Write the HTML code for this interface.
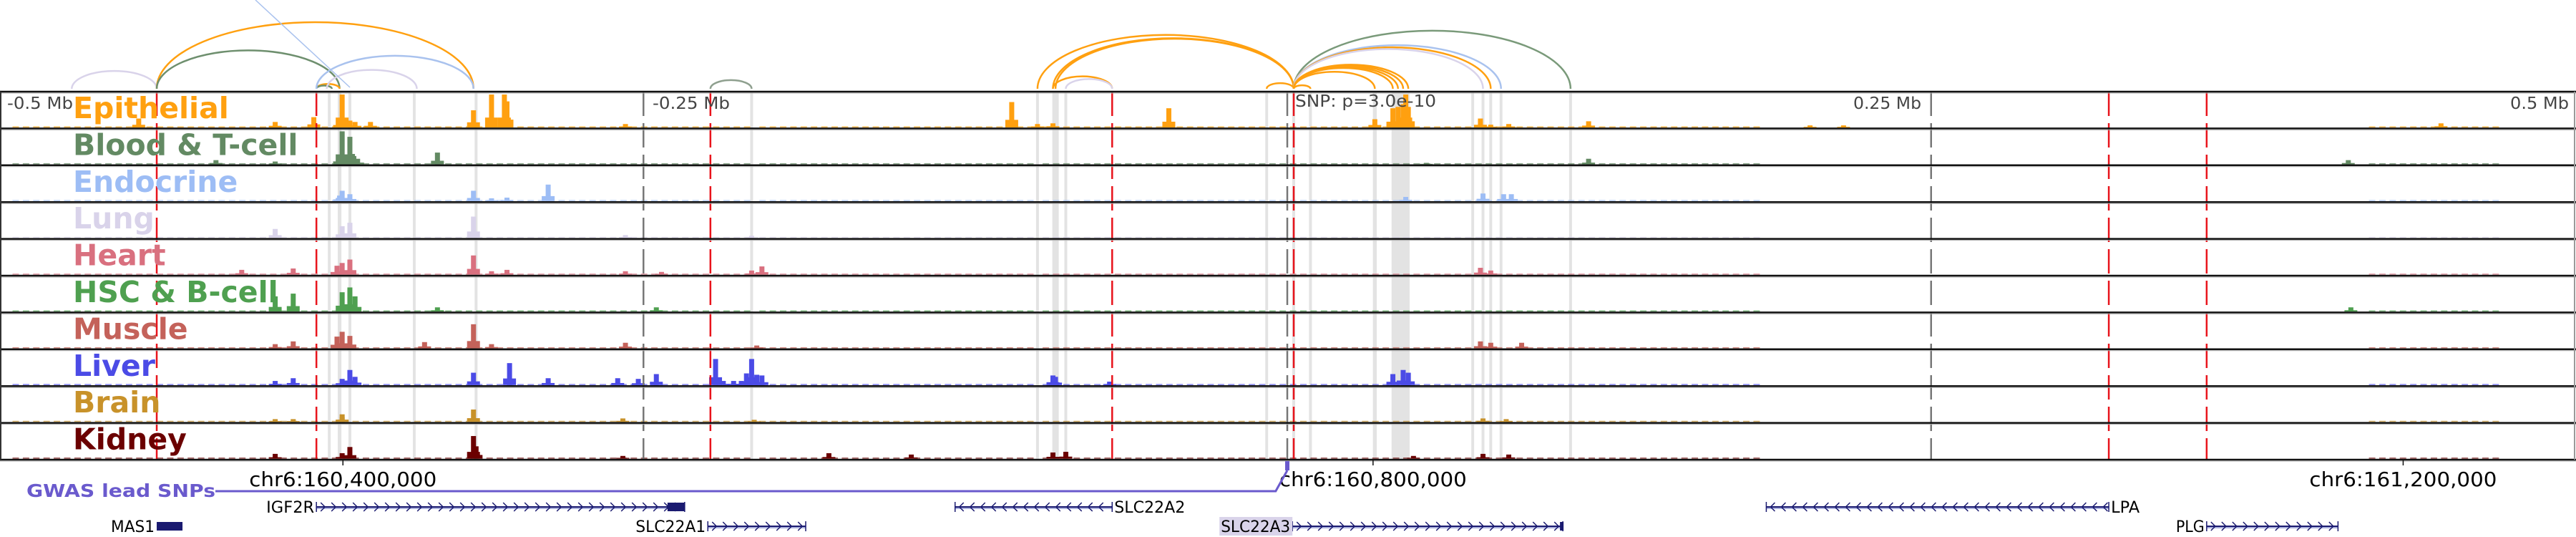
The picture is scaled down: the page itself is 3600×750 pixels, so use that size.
<!DOCTYPE html>
<html><head><meta charset="utf-8"><style>
html,body{margin:0;padding:0;background:#fff;}
svg{display:block;}
text{font-family:"DejaVu Sans","Liberation Sans",sans-serif;}
</style></head><body>
<svg id="chart" width="3600" height="750" viewBox="0 0 3600 750" xmlns="http://www.w3.org/2000/svg">
<g id="bands"></g>
<g id="arcs"></g>
<g id="tracks"></g>
<g id="vlines"></g>
<g id="frames"></g>
<g id="labels"></g>
<g id="axis"></g>
<g id="genes"></g>
</svg>
<script>
// ---- data ----
const trackNames = ["Epithelial","Blood & T-cell","Endocrine","Lung","Heart","HSC & B-cell","Muscle","Liver","Brain","Kidney"];
const trackColors = ["#ffa010","#638a63","#9dbdf5","#d9d3ea","#d9707f","#4fa050","#c4625a","#4b4be6","#c8922a","#6b0000"];
const peaksEpithelial = [[-446,13],[-393,8],[-378,15],[-368,12],[-367,48],[-364,10],[-362,8],[-356,8],[-316,25],[-309,48],[-304,48],[-303,38],[-257,5],[-107,37],[-97,5],[-91,6],[-46,28],[34,12],[41,28],[43,30],[45,34],[46,48],[47,30],[75,13],[79,4],[86,5],[117,9],[203,3],[216,3],[448,6]];
const peaksBlood = [[-416,6],[-393,4],[-368,14],[-367,48],[-364,40],[-363,15],[-361,8],[-330,17],[54,2],[117,8],[412,6]];
const peaksEndocrine = [[-368,8],[-367,15],[-364,10],[-287,24],[-316,15],[-309,4],[-303,5],[46,6],[76,11],[84,10],[87,10]];
const peaksLung = [[-393,13],[-367,17],[-364,22],[-316,31],[-257,4],[-208,3]];
const peaksHeart = [[-406,7],[-386,9],[-369,13],[-367,17],[-364,22],[-316,28],[-309,5],[-303,7],[-257,5],[-243,4],[-208,6],[-204,12],[75,10],[79,6]];
const peaksHSC = [[-393,22],[-386,26],[-367,28],[-364,35],[-362,22],[-330,6],[-245,6],[413,6]];
const peaksMuscle = [[-393,6],[-386,10],[-369,17],[-367,24],[-364,18],[-335,9],[-316,35],[-309,6],[-257,8],[-206,4],[75,10],[79,8],[91,8]];
const peaksLiver = [[-393,6],[-386,10],[-367,9],[-364,22],[-362,12],[-316,18],[-302,32],[-287,10],[-260,10],[-252,9],[-245,16],[-222,38],[-219,6],[-215,6],[-212,6],[-210,17],[-208,38],[-206,15],[-204,14],[-91,14],[-90,12],[-69,5],[41,16],[45,22],[47,18]];
const peaksBrain = [[-393,4],[-386,4],[-367,7],[-367,11],[-316,18],[-258,5],[-207,3],[76,5],[85,4]];
const peaksKidney = [[-393,7],[-367,8],[-364,17],[-316,33],[-315,18],[-258,4],[-178,8],[-146,6],[-91,9],[-86,10],[49,4],[76,7],[86,6]];
const trackPeaks = [peaksEpithelial,peaksBlood,peaksEndocrine,peaksLung,peaksHeart,peaksHSC,peaksMuscle,peaksLiver,peaksBrain,peaksKidney];
const bgRanges = [[-495,-210],[-205,-100],[-95,185],[420,470]];
const bandCenters = [-372,-368,-364,-339,-315,-208,-97,-90,-86,-8,2.5,9,34,44,72,76,79,83,110];
const bandWidths = [1.1,1.4,1.1,1.1,1.1,1.1,1.1,2.5,1.1,1.1,1.1,1.1,1.5,7,1.1,1.1,1.1,1.1,1.1];
const gwasSnps = [-439,-377,-224,-68,2.5,319,357];
const refLines = [-250,0,250];
const arcStarts = [-472,-439,-439,-377,-377,-377,-373,-224,-97,-91,-90,-91,-86,-8,2.5,2.5,2.5,2.5,2.5,2.5,2.5,2.5,2.5,2.5];
const arcEnds   = [-439,-316,-368,-368,-371,-316,-338,-208,2.5,2.5,2.5,-68,-68,2.5,9,110,83,79,76,41,43,45,47,34];
const arcColors = ["#d9d3ea","#ffa010","#6e8f6e","#ffa010","#6e8f6e","#a9c2ee","#d9d3ea","#8fa08f","#ffa010","#ffa010","#ffa010","#ffa010","#d9d3ea","#ffa010","#ffa010","#7a9a7a","#a9c2ee","#ffa010","#d9d3ea","#ffa010","#ffa010","#ffa010","#ffa010","#ffa010"];
const tickKb = [-366.7,33.3,433.3];
const tickLabels = ["chr6:160,400,000","chr6:160,800,000","chr6:161,200,000"];
const geneNames = ["MAS1","IGF2R","SLC22A1","SLC22A2","SLC22A3","LPA","PLG"];
const geneStarts = [-439,-377,-225,-129,2,186,357];
const geneEnds = [-429,-234,-187,-68,107,319,408];
const geneStrand = [1,1,1,-1,1,-1,1];
const geneRow = [2,1,2,1,2,1,2];
const geneLabelSide = ["left","left","left","right","left","right","left"];

// ---- scales ----
const NS="http://www.w3.org/2000/svg";
function x(kb){return 1799+kb*3.599;}
const TOP=128, TH=51.4;
function tTop(i){return TOP+i*TH;}
function yVal(v){return Math.min(v,48)/48*46;}
function mk(tag,attrs,parent){const e=document.createElementNS(NS,tag);for(const k in attrs)e.setAttribute(k,attrs[k]);parent.appendChild(e);return e;}
const gB=document.getElementById('bands'),gA=document.getElementById('arcs'),gT=document.getElementById('tracks'),gV=document.getElementById('vlines'),gF=document.getElementById('frames'),gL=document.getElementById('labels'),gX=document.getElementById('axis'),gG=document.getElementById('genes');
const bottom=tTop(10);

// bands
bandCenters.forEach((c,i)=>{const w=bandWidths[i]*3.599;
 const r=mk('rect',{x:x(c)-w/2,y:TOP,width:w,height:bottom-TOP,fill:'#e3e3e3'},gB);
 
 });

// arcs
arcStarts.forEach((s,i)=>{const x1=x(s),x2=x(arcEnds[i]);const span=Math.abs(x2-x1);const h=0.21*span;const base=124;
 const p=mk('path',{d:`M${x1},${base} A${span/2},${h} 0 0 1 ${x2},${base}`,fill:'none',stroke:arcColors[i],'stroke-width':2.5},gA);
 
 });
const bl=mk('line',{x1:357,y1:0,x2:489,y2:122,stroke:'#a9c2ee','stroke-width':1.5},gA);



// tracks
trackPeaks.forEach((pk,i)=>{const base=tTop(i)+50;const col=trackColors[i];
 const g=mk('g',{},gT);
 
 
 bgRanges.forEach(r=>{for(let k=r[0];k<r[1];k+=4){mk('rect',{x:x(k),y:base-1.5,width:9,height:1.5,fill:col,opacity:0.7},g);}});
 pk.forEach(p=>{const h=yVal(p[1]);
  const b=mk('rect',{x:x(p[0])-3.5,y:base-h,width:7,height:h,fill:col},g);
  
  
  const sh=h*0.3;mk('rect',{x:x(p[0])-9,y:base-sh,width:18,height:sh,fill:col},g);});
});

// vertical lines
gwasSnps.forEach(s=>{const l=mk('line',{x1:x(s),y1:TOP,x2:x(s),y2:bottom,stroke:'#e8141c','stroke-width':2.5,'stroke-dasharray':'34 10'},gV);
 
 });
refLines.forEach(s=>{const l=mk('line',{x1:x(s),y1:TOP,x2:x(s),y2:bottom,stroke:'#777','stroke-width':2.5,'stroke-dasharray':'34 10'},gV);
 
 });

// frames
for(let i=0;i<=10;i++){const y=tTop(i);mk('line',{x1:0,y1:y,x2:3600,y2:y,stroke:'#111','stroke-width':2.5},gF);mk('line',{x1:0,y1:y+2,x2:3600,y2:y+2,stroke:'#aaa','stroke-width':1},gF);}
mk('line',{x1:1,y1:TOP,x2:1,y2:bottom,stroke:'#333','stroke-width':2},gF);
mk('line',{x1:3598,y1:TOP,x2:3598,y2:bottom,stroke:'#999','stroke-width':2},gF);

// track labels
trackNames.forEach((n,i)=>{const t=mk('text',{x:102,y:tTop(i)+37,fill:trackColors[i],'font-size':41,'font-weight':'bold'},gL);t.textContent=n;
 
 });
function txt(s,a,name){const t=mk('text',a,gL);t.textContent=s;return t;}
txt('-0.5 Mb',{x:10,y:152,fill:'#444','font-size':23,textLength:92,lengthAdjust:'spacingAndGlyphs'},'offset-label');
txt('-0.25 Mb',{x:912,y:152,fill:'#444','font-size':23,textLength:108,lengthAdjust:'spacingAndGlyphs'},'offset-label');
txt('SNP: p=3.0e-10',{x:1810,y:149,fill:'#444','font-size':23,textLength:197,lengthAdjust:'spacingAndGlyphs'},'snp-label');
txt('0.25 Mb',{x:2590,y:152,fill:'#444','font-size':23,textLength:95,lengthAdjust:'spacingAndGlyphs'},'offset-label');
txt('0.5 Mb',{x:3508,y:152,fill:'#444','font-size':23,textLength:82,lengthAdjust:'spacingAndGlyphs'},'offset-label');

// axis
tickKb.forEach((k,i)=>{mk('line',{x1:x(k),y1:bottom,x2:x(k),y2:bottom+8,stroke:'#111','stroke-width':1.5},gX);
 const t=mk('text',{x:x(k),y:679,'text-anchor':'middle','font-size':28,fill:'#000',textLength:262,lengthAdjust:'spacingAndGlyphs'},gX);t.textContent=tickLabels[i];
 
 });
const gw=mk('text',{x:37,y:694,'font-size':25,'font-weight':'bold',fill:'#6a5acd',textLength:264,lengthAdjust:'spacingAndGlyphs'},gX);gw.textContent='GWAS lead SNPs';


const gp=mk('polyline',{points:`301,686 ${x(-4.5)},686 ${x(0)},657`,fill:'none',stroke:'#6a5acd','stroke-width':3},gX);


const sm=mk('rect',{x:x(0)-3,y:644,width:6,height:13,fill:'#6a5acd'},gX);



// genes
const lw={MAS1:61,IGF2R:67,SLC22A1:98,SLC22A2:99,SLC22A3:97,LPA:40,PLG:40};
geneNames.forEach((n,i)=>{const y=geneRow[i]===1?708:735;const x1=x(geneStarts[i]),x2=x(geneEnds[i]);
 const g=mk('g',{},gG);
 
 
 mk('line',{x1:x1,y1:y+1,x2:x2,y2:y+1,stroke:'#aab0dd','stroke-width':4},g);
 mk('line',{x1:x1,y1:y,x2:x2,y2:y,stroke:'#1a1a70','stroke-width':2},g);
 if(n==='MAS1'){mk('rect',{x:x1,y:y-6,width:x2-x1,height:12,fill:'#1a1a70'},g);}
 else{for(let p=x1+6;p<x2-4;p+=15){const d=geneStrand[i]>0?`M${p},${y-6} L${p+6},${y} L${p},${y+6}`:`M${p+6},${y-6} L${p},${y} L${p+6},${y+6}`;mk('path',{d:d,fill:'none',stroke:'#1a1a70','stroke-width':1.5},g);}
  mk('line',{x1:x1,y1:y-7,x2:x1,y2:y+7,stroke:'#1a1a70','stroke-width':1.5},g);mk('line',{x1:x2,y1:y-7,x2:x2,y2:y+7,stroke:'#1a1a70','stroke-width':1.5},g);}
 if(n==='IGF2R'){mk('rect',{x:x2-24,y:y-6,width:24,height:12,fill:'#1a1a70'},g);}
 if(n==='SLC22A3'){mk('rect',{x:x2-4,y:y-6,width:5,height:12,fill:'#1a1a70'},g);mk('rect',{x:x1-102,y:y-13,width:102,height:26,fill:'#d9d3ea'},g);}
 const w=lw[n];const tx=geneLabelSide[i]==='left'?x1-3-w:x2+3;
 const t=mk('text',{x:tx,y:y+8,'font-size':22,fill:'#000',textLength:w,lengthAdjust:'spacingAndGlyphs'},g);t.textContent=n;
 
 
});
</script>
</body></html>
